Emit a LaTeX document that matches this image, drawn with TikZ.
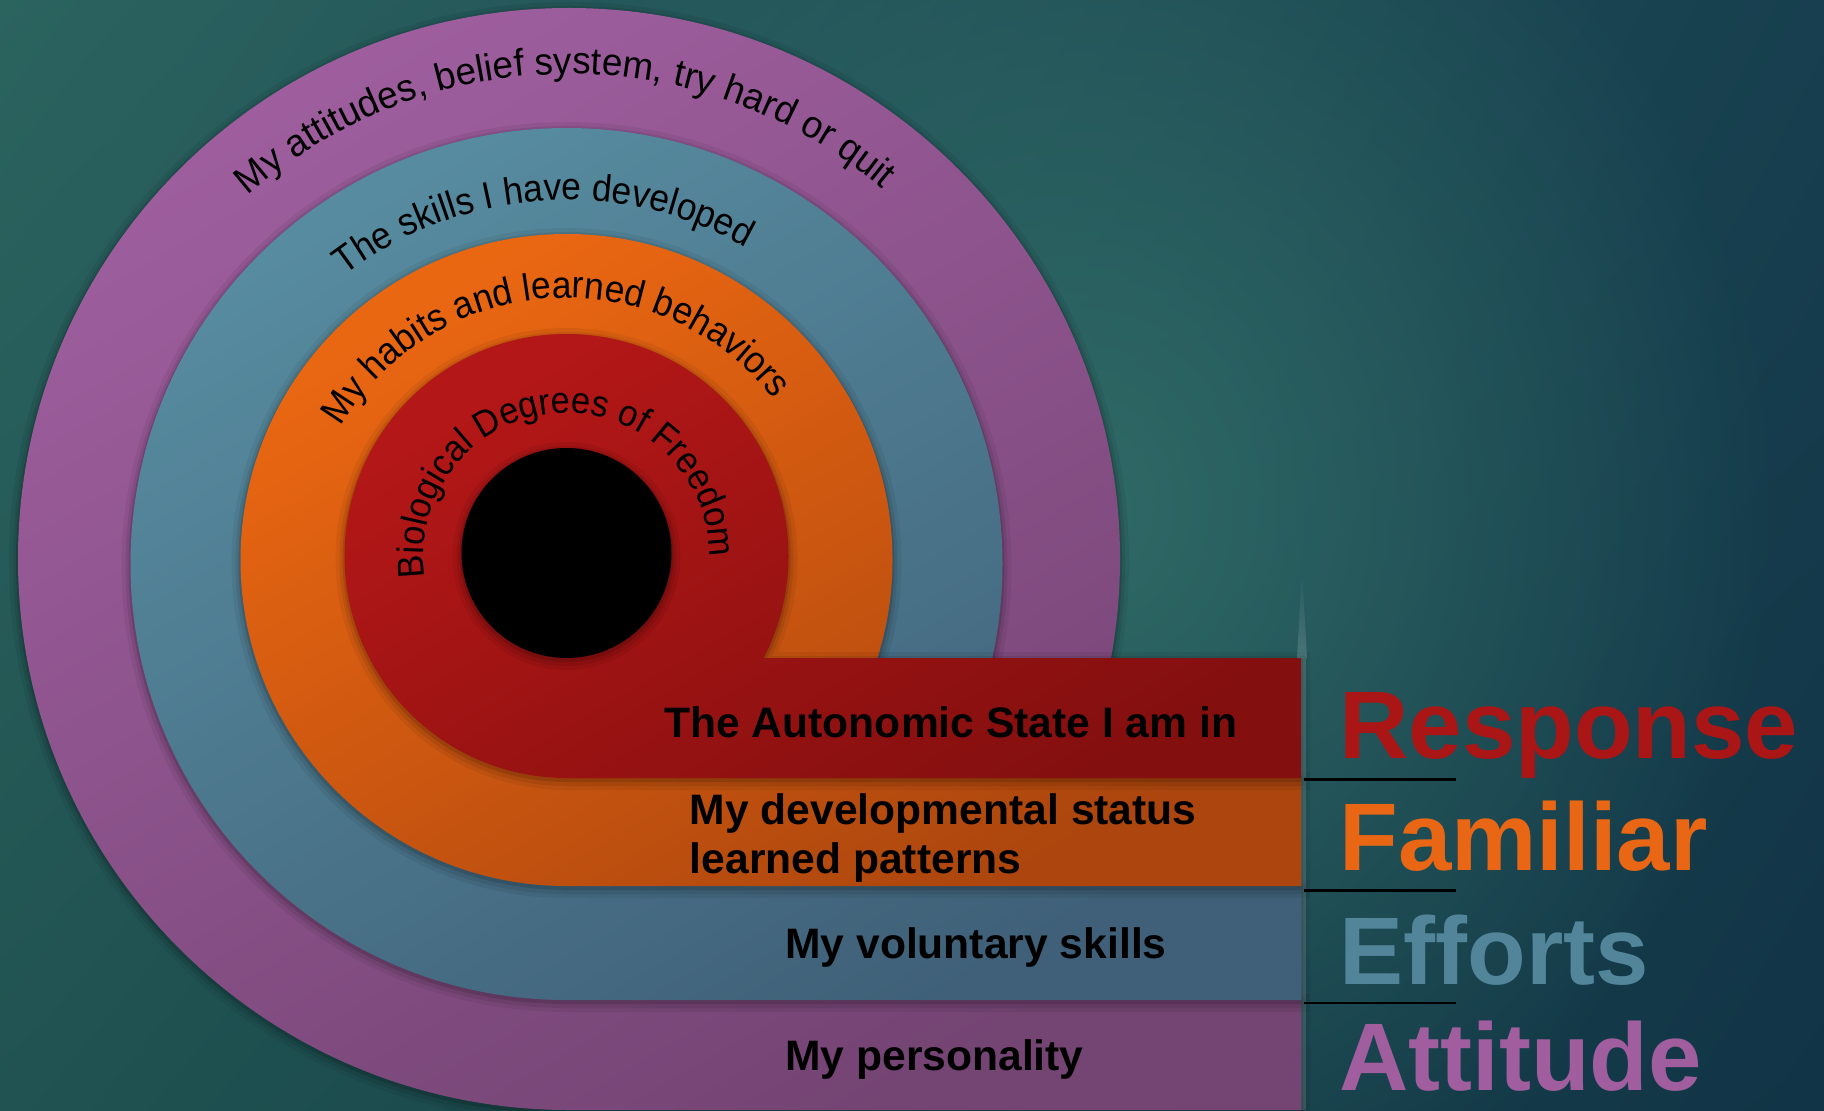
\documentclass[tikz,border=0pt]{standalone}
\usepackage{fontspec}
\setmainfont{Liberation Sans}
\newfontfamily\ringface[FakeStretch=0.93]{Liberation Sans}
\newfontfamily\outerface[FakeStretch=0.97]{Liberation Sans}
\usetikzlibrary{decorations.text,shadings,fadings}

\definecolor{bgul}{HTML}{2B635F}
\definecolor{bgur}{HTML}{173F4F}
\definecolor{bgll}{HTML}{205351}
\definecolor{bglr}{HTML}{113446}
\definecolor{bgglow}{HTML}{33706A}
\definecolor{purplelt}{HTML}{9E5E9E}
\definecolor{purpledk}{HTML}{744473}
\definecolor{bluelt}{HTML}{578B9F}
\definecolor{bluedk}{HTML}{3F6078}
\definecolor{orangelt}{HTML}{EA6712}
\definecolor{orangedk}{HTML}{AC460E}
\definecolor{redlt}{HTML}{B41717}
\definecolor{reddk}{HTML}{840F0F}
\definecolor{respred}{HTML}{AA1515}
\definecolor{famorange}{HTML}{E86614}
\definecolor{effblue}{HTML}{52859A}
\definecolor{attpurple}{HTML}{A05E9E}

\tikzfading[name=glowfade,inner color=transparent!0,outer color=transparent!100]
\newcommand\ringfont{\ringface\fontsize{19pt}{19pt}\selectfont}

\begin{document}
\begin{tikzpicture}[x=0.5pt,y=0.5pt,
    ringshadow/.style={
        preaction={draw=black,opacity=.06,line width=9pt,transform canvas={yshift=-1.5pt}},
        preaction={draw=black,opacity=.08,line width=5pt,transform canvas={yshift=-1.5pt}},
        preaction={draw=black,opacity=.12,line width=2pt,transform canvas={yshift=-1pt}}},
    ringtext/.style={decorate,decoration={text along path,text align=center,text={#1}}},
    bartext/.style={anchor=base west,inner sep=0pt,font=\bfseries\fontsize{21.3pt}{21.3pt}\selectfont},
    bigword/.style={anchor=base west,inner sep=0pt,font=\bfseries\fontsize{48pt}{48pt}\selectfont}]
    \useasboundingbox (0,0) rectangle (1824,1110);
    \shade[upper left=bgul,upper right=bgur,lower left=bgll,lower right=bglr] (0,0) rectangle (1824,1110);
    \fill[bgglow,opacity=.85,path fading=glowfade] (1080,600) ellipse[x radius=700,y radius=760];

    % rings, outer first, each one with its bar out to the right
    \coordinate (purplec) at (569,551);
    \coordinate (bluec) at (566.5,546);
    \coordinate (orangec) at (566.5,550);
    \coordinate (redc) at (566.5,554);
    \shade[ringshadow,top color=purplelt,bottom color=purpledk,shading angle=30]
        (1301,0) -- (569,0) arc[start angle=270,end angle=-53.2,radius=551] -- (1301,110) -- cycle;
    \shade[ringshadow,top color=bluelt,bottom color=bluedk,shading angle=30]
        (1301,110) -- (566.5,110) arc[start angle=270,end angle=-47.6,radius=436] -- (1301,224) -- cycle;
    \shade[ringshadow,top color=orangelt,bottom color=orangedk,shading angle=30]
        (1301,224) -- (566.5,224) arc[start angle=270,end angle=-42.0,radius=326] -- (1301,332) -- cycle;
    \shade[ringshadow,top color=redlt,bottom color=reddk,shading angle=30]
        (1301,332) -- (566.5,332) arc[start angle=270,end angle=-27.4,radius=222] -- (1301,452) -- cycle;
    \fill[ringshadow,black] (566.5,557) circle[radius=105];

    % glint along the right end of the bars
    \fill[white,opacity=.14] (1301,0) rectangle (1306,452);
    \fill[white,opacity=.16,path fading=north] (1297,452) -- (1302,540) -- (1307,452) -- cycle;

    % curved labels
    \path[ringtext={|\outerface\fontsize{19pt}{19pt}\selectfont|My attitudes, belief system, try hard or quit}]
        (purplec) ++(150.6:485) arc[start angle=150.6,end angle=30.6,radius=485];
    \path[ringtext={|\ringfont|The skills I have developed}]
        (bluec) ++(144:364) arc[start angle=144,end angle=44,radius=364];
    \path[ringtext={|\ringfont|My habits and learned behaviors}]
        (orangec) ++(168.6:262) arc[start angle=168.6,end angle=18.6,radius=262];
    \path[ringtext={|\ringface\fontsize{18.5pt}{18.5pt}\selectfont|Biological Degrees of Freedom}]
        (redc) ++(214:143) arc[start angle=214,end angle=-26,radius=143];

    % text on the bars
    \node[bartext] (autonomic) at (664,372.7) {The Autonomic State I am in};
    \node[bartext] (devtop) at (689.5,286) {My developmental status};
    \node[bartext] (devbot) at (689.5,236.7) {learned patterns};
    \node[bartext] (voluntary) at (785,151.7) {My voluntary skills};
    \node[bartext] (personality) at (785,40) {My personality};

    % key words on the right
    \node[bigword,text=respred] (response) at (1339,352) {Response};
    \node[bigword,text=famorange] (familiar) at (1339,239.6) {Familiar};
    \node[bigword,text=effblue] (efforts) at (1339,125.6) {Efforts};
    \node[bigword,text=attpurple] (attitude) at (1339,19.7) {Attitude};
    \foreach \y in {330.4,219.6,107}
        \draw[line width=1.2pt] (1304,\y) -- (1456,\y);
\end{tikzpicture}
\end{document}
